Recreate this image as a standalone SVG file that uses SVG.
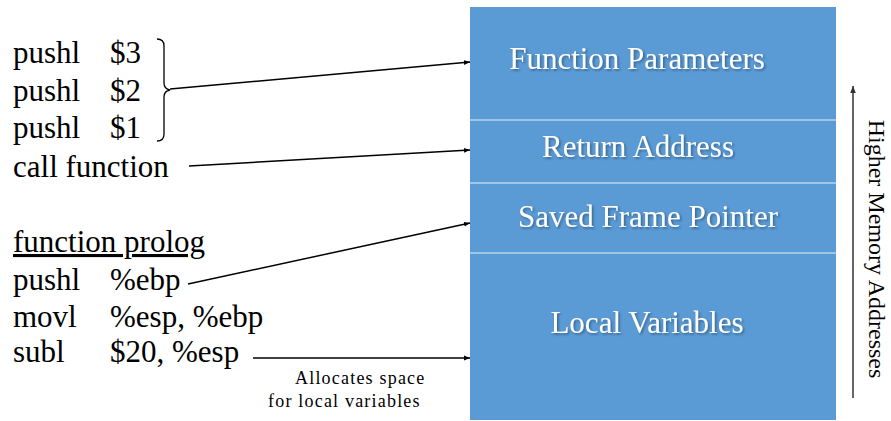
<svg xmlns="http://www.w3.org/2000/svg" width="891" height="421" viewBox="0 0 891 421">
<defs>
<style>
text{font-family:'Liberation Serif','Times New Roman',serif}
.code{font-size:31px;fill:#000}
.lbl{font-size:31px;fill:#fff;text-anchor:middle}
.small{font-size:18px;fill:#000;letter-spacing:1.2px}
.side{font-size:24px;fill:#000;text-anchor:middle}
.conn{stroke:#000;stroke-width:1.5;fill:none;marker-end:url(#ah)}
.div{stroke:#b7d3ee;stroke-width:1.5}
</style>
<marker id="ah" viewBox="0 0 10 10" refX="10" refY="5" markerWidth="6" markerHeight="6" orient="auto" markerUnits="userSpaceOnUse">
<path d="M0,1 L10,5 L0,9 Z" fill="#000"/>
</marker>
<marker id="ahg" viewBox="0 0 10 10" refX="10" refY="5" markerWidth="7" markerHeight="7" orient="auto" markerUnits="userSpaceOnUse">
<path d="M0,1 L10,5 L0,9 Z" fill="#333"/>
</marker>
<filter id="sh" x="-10%" y="-30%" width="120%" height="160%">
<feDropShadow dx="1.5" dy="1.5" stdDeviation="1" flood-color="#1f3d5c" flood-opacity="0.6"/>
</filter>
</defs>
<rect width="891" height="421" fill="#fff"/>
<g id="code">
<text class="code" x="13" y="63">pushl</text><text class="code" x="110" y="63">$3</text>
<text class="code" x="13" y="101">pushl</text><text class="code" x="110" y="101">$2</text>
<text class="code" x="13" y="138">pushl</text><text class="code" x="110" y="138">$1</text>
<text class="code" x="13" y="177">call function</text>
<text class="code" x="13" y="252" text-decoration="underline">function prolog</text>
<text class="code" x="13" y="290">pushl</text><text class="code" x="110" y="290">%ebp</text>
<text class="code" x="13" y="327">movl</text><text class="code" x="110" y="327">%esp, %ebp</text>
<text class="code" x="13" y="362">subl</text><text class="code" x="110" y="362">$20, %esp</text>
<path d="M157,39 Q164,39 164,46 L164,83 Q164,89 170,90 Q164,91 164,97 L164,134 Q164,141 157,141" fill="none" stroke="#000" stroke-width="1.3"/>
</g>
<g id="stack">
<rect x="470" y="7" width="366" height="413" fill="#5b9bd5"/>
<line class="div" x1="470" y1="120" x2="836" y2="120"/>
<line class="div" x1="470" y1="183" x2="836" y2="183"/>
<line class="div" x1="470" y1="253" x2="836" y2="253"/>
</g>
<g id="function-parameters"><text class="lbl" x="637" y="69" filter="url(#sh)">Function Parameters</text></g>
<g id="return-address"><text class="lbl" x="638" y="157" filter="url(#sh)">Return Address</text></g>
<g id="saved-frame-pointer"><text class="lbl" x="648" y="227" filter="url(#sh)">Saved Frame Pointer</text></g>
<g id="local-variables"><text class="lbl" x="647" y="333" filter="url(#sh)">Local Variables</text></g>
<g id="higher-memory">
<line x1="853" y1="398" x2="853" y2="86" stroke="#333" stroke-width="1.5" marker-end="url(#ahg)"/>
<text class="side" transform="translate(869,249) rotate(90)">Higher Memory Addresses</text>
</g>
<g id="alloc-note">
<text class="small" x="295" y="384">Allocates space</text>
<text class="small" x="268" y="407">for local variables</text>
</g>
<g id="connectors">
<line class="conn" x1="170" y1="89" x2="470" y2="62"/>
<line class="conn" x1="189" y1="166" x2="470" y2="150"/>
<line class="conn" x1="188" y1="284" x2="470" y2="223"/>
<line class="conn" x1="253" y1="358" x2="470" y2="358"/>
</g>
</svg>
